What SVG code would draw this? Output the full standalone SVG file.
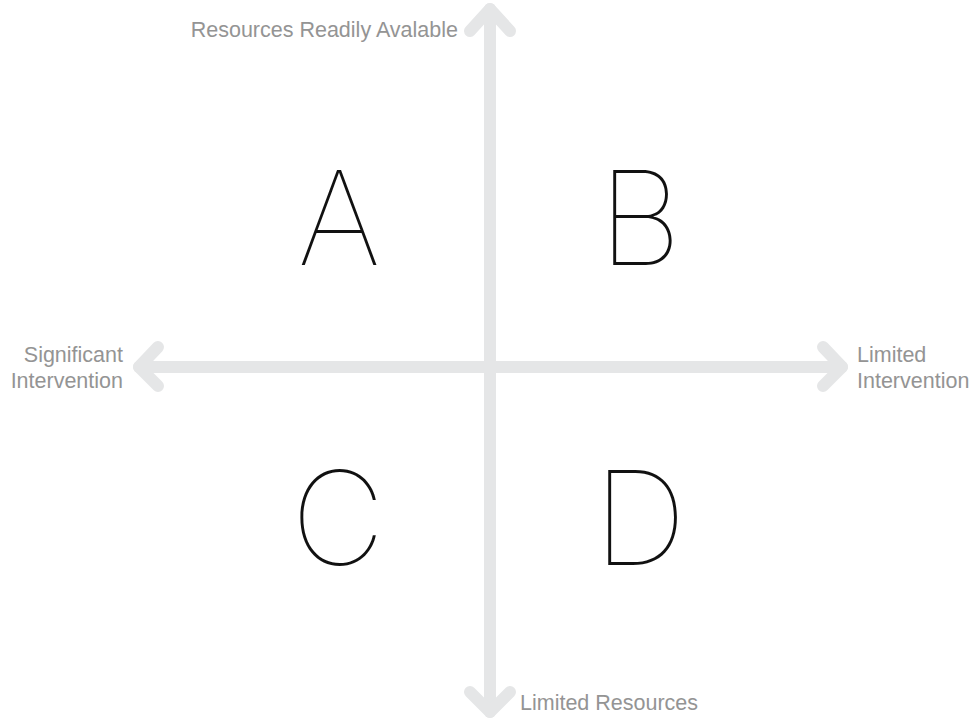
<svg xmlns="http://www.w3.org/2000/svg" width="973" height="721" viewBox="0 0 973 721">
<style>
.ax{stroke:#e5e6e7;stroke-width:12;stroke-linecap:round;stroke-linejoin:round;fill:none}
.lbl{font-family:"Liberation Sans",Arial,sans-serif;font-size:21.5px;fill:#949494}
.big{font-family:Inter,"Liberation Sans",sans-serif;font-weight:100;font-size:130px;fill:#111;text-anchor:middle}
</style>
<rect width="973" height="721" fill="#fff"/>
<g id="connectors">
<line class="ax" x1="490" y1="9" x2="490" y2="712"/>
<line class="ax" x1="139" y1="367" x2="842" y2="367"/>
<polyline class="ax" points="470,31 490,9 510,31"/>
<polyline class="ax" points="470,692 490,712 510,692"/>
<polyline class="ax" points="158,347 139,367 158,386"/>
<polyline class="ax" points="823,347 842,367 823,386"/>
</g>
<g id="label-top"><text class="lbl" x="458" y="37" text-anchor="end">Resources Readily Avalable</text></g>
<g id="label-left"><text class="lbl" x="123" y="362" text-anchor="end">Significant</text><text class="lbl" x="123" y="388" text-anchor="end">Intervention</text></g>
<g id="label-right"><text class="lbl" x="857" y="362">Limited</text><text class="lbl" x="857" y="388">Intervention</text></g>
<g id="label-bottom"><text class="lbl" x="520" y="710">Limited Resources</text></g>
<g id="A"><text class="big" x="339" y="265">A</text></g>
<g id="B"><text class="big" x="640" y="265">B</text></g>
<g id="C"><text class="big" x="338" y="565">C</text></g>
<g id="D"><text class="big" x="640" y="565">D</text></g>
</svg>
